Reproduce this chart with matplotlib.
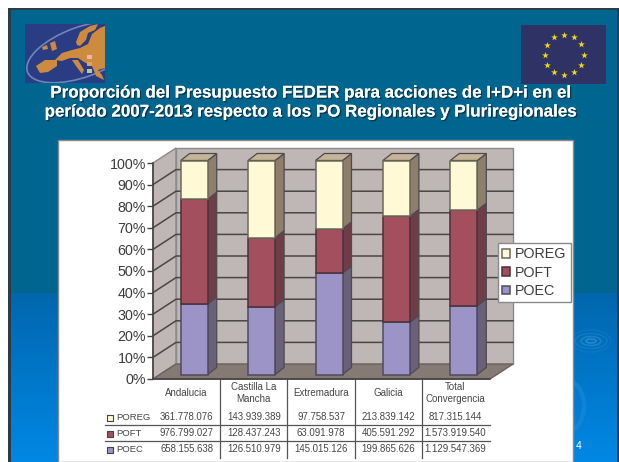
import numpy as np
import matplotlib
matplotlib.use("Agg")
import matplotlib.pyplot as plt
import matplotlib.patheffects as pe
from matplotlib.patches import Polygon, Rectangle, Ellipse

plt.rcParams['font.family'] = ['Liberation Sans', 'DejaVu Sans']

# Data from the table under the chart
regions = ["Andalucia", "Castilla La\nMancha", "Extremadura", "Galicia", "Total\nConvergencia"]
poec = [658155638, 126510979, 145015126, 199865626, 1129547369]
poft = [976799027, 128437243, 63091978, 405591292, 1573919540]
poreg = [361778076, 143939389, 97758537, 213839142, 817315144]
poec_txt = ["658.155.638", "126.510.979", "145.015.126", "199.865.626", "1.129.547.369"]
poft_txt = ["976.799.027", "128.437.243", "63.091.978", "405.591.292", "1.573.919.540"]
poreg_txt = ["361.778.076", "143.939.389", "97.758.537", "213.839.142", "817.315.144"]
pct_ticks = [0, 10, 20, 30, 40, 50, 60, 70, 80, 90, 100]
title = ("Proporción del Presupuesto FEDER para acciones de I+D+i en el\n"
         "período 2007-2013 respecto a los PO Regionales y Pluriregionales")

W, H = 619, 462
fig = plt.figure(figsize=(W / 100, H / 100), dpi=100)

# Slide background, in pixel coordinates
bg = fig.add_axes([0, 0, 1, 1])
bg.set_xlim(0, W)
bg.set_ylim(H, 0)
bg.axis("off")
bg.add_patch(Rectangle((8, 8), W - 8, H - 8, fc="#00668F", ec="none"))
grad = np.linspace(0, 1, 100).reshape(-1, 1, 1)
c0 = np.array([0x00, 0x66, 0xAE]) / 255
c1 = np.array([0x00, 0x88, 0xE4]) / 255
bg.imshow(c0 + (c1 - c0) * grad, extent=(8, W, H, 293), aspect="auto", zorder=1)
bg.set_xlim(0, W)
bg.set_ylim(H, 0)
for x0, y0, x1, y1 in [(8, 8, 11, H), (8, 8, W, 10), (617, 8, W, H)]:
    bg.add_patch(Rectangle((x0, y0), x1 - x0, y1 - y0, fc="#2D3B46", ec="none", zorder=2))

# Water ripples
for w, h, a in [(10, 4, 0.5), (20, 9, 0.35), (32, 15, 0.2), (40, 22, 0.12)]:
    bg.add_patch(Ellipse((591, 341), w, h, fc="none", ec="#5AA8E0", lw=1, alpha=a, zorder=2))
bg.add_patch(Ellipse((566, 406), 36, 52, fc="none", ec="#2A90DE", lw=3, alpha=0.4, zorder=2))

# Europe logo
logo = Rectangle((25, 24), 80, 59, fc="#2A3C84", ec="none", zorder=2)
bg.add_patch(logo)
arc = Ellipse((82, 52), 116, 50, angle=-20, fc="none", ec="#6F86B8", lw=1.2, zorder=2.1)
bg.add_patch(arc)
arc.set_clip_path(logo)
land = [
    [(36, 66), (45, 60), (57, 60), (57, 66), (48, 72), (40, 73)],
    [(55, 60), (62, 53), (72, 50), (80, 48), (88, 44), (92, 34), (100, 28), (105, 26), (105, 68),
     (98, 70), (102, 75), (104, 80), (96, 76), (92, 66), (84, 62), (78, 58), (70, 58), (62, 61)],
    [(76, 42), (80, 32), (90, 26), (98, 24), (95, 30), (88, 33), (86, 40), (80, 46), (77, 45)],
    [(72, 60), (78, 60), (84, 70), (82, 74), (76, 66)],
    [(50, 43), (55, 41), (57, 49), (52, 51)],
    [(42, 47), (47, 45), (48, 49), (43, 50)],
]
for pts in land:
    bg.add_patch(Polygon(pts, closed=True, fc="#CE8A3E", ec="none", zorder=2.2))
for yy, col in [(55, "#E8B9B0"), (62, "#D9A070"), (69, "#B9C8A0")]:
    bg.add_patch(Rectangle((87, yy), 5, 4, fc=col, ec="none", zorder=2.3))

# EU flag
bg.add_patch(Rectangle((521, 25), 85, 59, fc="#2F3264", ec="none", zorder=2))
ang = np.deg2rad(np.arange(0, 360, 30))
bg.scatter(564 + 19.5 * np.cos(ang), 54.5 + 20 * np.sin(ang), marker="*", s=26,
           color="#F2D916", linewidths=0, zorder=3)

# Title
bg.text(310, 102.5, title, ha="center", va="center", color="white", fontsize=12.2, fontweight="bold",
        linespacing=1.33, zorder=4,
        path_effects=[pe.withSimplePatchShadow(offset=(1, -1), shadow_rgbFace="#12303F", alpha=0.9),
                      pe.Normal()])

# White chart panel
bg.add_patch(Rectangle((58, 140), 515, H - 140, fc="white", ec="#8A8A8A", lw=1, zorder=3))
bg.text(579, 446, "4", color="white", fontsize=7.5, ha="center", va="center", zorder=4)

# Data table below the chart
ink = "#454545"
col_w = 67.2
col_x = [153 + col_w * (i + 0.5) for i in range(5)]
row_y = [417, 433, 449]
rows = [("POREG", poreg_txt, "#FFF9D5"), ("POFT", poft_txt, "#A34F5E"), ("POEC", poec_txt, "#9C94C6")]
for x, name in zip(col_x, regions):
    bg.text(x, 393, name, ha="center", va="center", fontsize=7, color=ink, linespacing=1.3, zorder=5)
for y, (name, vals, col) in zip(row_y, rows):
    bg.scatter([110], [y + 1], marker="s", s=17, color=col, edgecolors="#444444", linewidths=0.8, zorder=5)
    bg.text(116, y, name, ha="left", va="center", fontsize=6.8, color=ink, zorder=5)
    for x, v in zip(col_x, vals):
        bg.text(x, y, v, ha="center", va="center", fontsize=6.9, color=ink, zorder=5)
for y in [425, 441]:
    bg.plot([105, 490], [y, y], color="#555555", lw=0.9, zorder=4)
for i in range(1, 5):
    xv = 153 + col_w * i
    bg.plot([xv, xv], [379, 458], color="#555555", lw=0.9, zorder=4)

# 3D looking stacked bars, drawn on a value axes placed over the front plane
ax = fig.add_axes([153 / W, 1 - 379 / H, 337 / W, 216 / H], zorder=3)
ax.patch.set_alpha(0)
ax.set_xlim(0, 5)
ax.set_ylim(0, 100)
px = 5 / 337
py = 100 / 216
ax.set_xticks([])
ax.set_yticks(pct_ticks)
ax.set_yticklabels([f"{t}%" for t in pct_ticks], fontsize=10.3, color="#3C3C3C")
ax.tick_params(axis="y", length=4, width=1, color="#444444", pad=1)
for s in ["top", "right"]:
    ax.spines[s].set_visible(False)
for s in ["left", "bottom"]:
    ax.spines[s].set_color("#444444")
    ax.spines[s].set_linewidth(1.2)

# walls and floor
dx, dy = 23 * px, 15 * py
wall = "#BFB7B5"
grid = "#4A4646"
ax.add_patch(Polygon([(0, 0), (dx, dy), (dx, 100 + dy), (0, 100)], fc=wall, ec="#8A8A8A", lw=1,
                     clip_on=False, zorder=1))
ax.add_patch(Polygon([(dx, dy), (5 + dx, dy), (5 + dx, 100 + dy), (dx, 100 + dy)], fc=wall, ec="#8A8A8A",
                     lw=1, clip_on=False, zorder=1))
ax.add_patch(Polygon([(0, 0), (dx, dy), (5 + dx, dy), (5, 0)], fc="#867A75", ec="#6A605C", lw=1,
                     clip_on=False, zorder=1))
for t in pct_ticks[1:-1]:
    ax.plot([0, dx, 5 + dx], [t, t + dy, t + dy], color=grid, lw=1.1, clip_on=False, zorder=1.5)

bar_dx = 7.5 * px
lift = 4.5 * py
scale = 214 / 216
side_dx, side_dy = 9 * px, 7 * py
bar_w = 27 * px
poec_a, poft_a, poreg_a = np.array(poec, float), np.array(poft, float), np.array(poreg, float)
total = poec_a + poft_a + poreg_a
stack = [
    ("POEC", poec_a / total * 100, "#9C94C6", "#6A6078", "#4E4A5E"),
    ("POFT", poft_a / total * 100, "#A34F5E", "#6F3D48", "#4A3238"),
    ("POREG", poreg_a / total * 100, "#FFF9D5", "#8E7E6C", "#6C6A5A"),
]
xs = np.arange(5) + 0.5 + bar_dx
bottom = np.zeros(5)
for name, vals, front, side, edge in stack:
    ax.bar(xs, vals * scale, bar_w, bottom=bottom * scale + lift, color=front, edgecolor=edge, lw=1.1,
           label=name, clip_on=False, zorder=3)
    for x, b, v in zip(xs, bottom, vals):
        xr = x + bar_w / 2
        y0 = b * scale + lift
        y1 = (b + v) * scale + lift
        ax.add_patch(Polygon([(xr, y0), (xr + side_dx, y0 + side_dy), (xr + side_dx, y1 + side_dy), (xr, y1)],
                             fc=side, ec="#4E4A50", lw=0.9, clip_on=False, zorder=2.8))
    bottom = bottom + vals
for x in xs:
    xl, xr = x - bar_w / 2, x + bar_w / 2
    y1 = 100 * scale + lift
    ax.add_patch(Polygon([(xl, y1), (xr, y1), (xr + side_dx, y1 + side_dy), (xl + side_dx, y1 + side_dy)],
                         fc="#C4B498", ec="#4E4A50", lw=0.9, clip_on=False, zorder=2.9))

handles, labels = ax.get_legend_handles_labels()
leg = ax.legend(handles[::-1], labels[::-1], loc="upper left", bbox_to_anchor=(345 / 337, 136 / 216),
                borderaxespad=0, frameon=True, fancybox=False, fontsize=10.3, labelcolor="#3C3C3C",
                handlelength=0.55, handleheight=0.55, handletextpad=0.35, labelspacing=0.3,
                borderpad=0.3, framealpha=1, edgecolor="#8A8A8A")
leg.set_zorder(10)

fig.savefig("out.png", dpi=100)
